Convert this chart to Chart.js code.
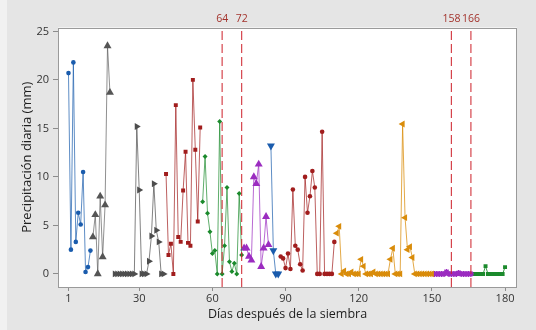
<!DOCTYPE html>
<html>
<head>
<meta charset="utf-8">
<script src="https://cdn.jsdelivr.net/npm/chart.js@4/dist/chart.umd.min.js"></script>
<style>
  html, body { margin: 0; padding: 0; background: #e5e5e5; }
  #wrap { position: relative; width: 536px; height: 330px; }
</style>
</head>
<body>
<div id="wrap"><canvas id="c" width="536" height="330"></canvas></div>
<script>
// Axis ticks and reference days
const dayTicks = [1, 30, 60, 90, 120, 150, 180];
const precipTicks = [0, 5, 10, 15, 20, 25];
const markerDays = [64, 72, 158, 166];

// Daily precipitation (mm) per crop stage; each stage starts on the given day
const stage1Start = 1;
const stage1 = [20.7, 2.5, 21.8, 3.3, 6.3, 5.1, 10.5, 0.2, 0.7, 2.4];
const stage2Start = 11;
const stage2 = [3.8, 6.1, 0, 8.0, 1.75, 7.1, 23.5, 18.7];
const stage3Start = 20;
const stage3 = [0, 0, 0, 0, 0, 0, 0, 0, 0, 15.2, 8.65, 0, 0, 0, 1.3, 3.9, 9.3, 4.5, 3.3, 0, 0];
const stage4Start = 41;
const stage4 = [10.3, 1.95, 3.1, 0, 17.4, 3.8, 3.3, 8.6, 12.6, 3.2, 2.9, 20.0, 12.8, 5.4, 15.1];
const stage5Start = 56;
const stage5 = [7.45, 12.1, 6.25, 4.35, 2.1, 2.4, 0, 15.7, 0, 2.9, 8.9, 1.25, 0.25, 1.1, 0, 8.3, 1.95];
const stage6Start = 73;
const stage6 = [2.65, 2.65, 1.8, 1.4, 10.0, 9.3, 11.3, 0.75, 2.65, 5.9, 3.0];
const stage7Start = 84;
const stage7 = [13.2, 2.4, 0, 0];
const stage8Start = 88;
const stage8 = [1.8, 1.6, 0.6, 2.1, 0.5, 8.7, 2.9, 2.5, 1.0, 0.35, 10.0, 6.3, 8.0, 10.6, 8.9, 0, 0, 14.65, 0, 0, 0, 0, 3.3];
const stage9Start = 111;
const stage9 = [4.2, 4.9, 0, 0.3, 0, 0, 0.2, 0, 0, 0, 1.5, 0.8, 0, 0, 0, 0.2, 0, 0, 0, 0, 0, 0, 1.5, 2.65, 0, 0, 0, 15.45, 5.8, 2.5, 2.8, 1.7, 0, 0, 0, 0, 0, 0, 0, 0];
const stage10Start = 151;
const stage10 = [0, 0, 0, 0, 0, 0.2, 0, 0, 0, 0, 0.1, 0, 0, 0, 0, 0];
const stage11Start = 167;
const stage11 = [0, 0, 0, 0, 0, 0.8, 0, 0, 0, 0, 0, 0, 0, 0.7];

// Visual style of each stage (marker colour, line colour, symbol, size, rotation)
const stageStyles = [
  { color: '#1a5cad', line: 'rgba(26,92,173,0.7)',  point: 'circle',   radius: 2.3, rotation: 0 },
  { color: '#555555', line: 'rgba(85,85,85,0.65)',  point: 'triangle', radius: 4.6, rotation: 0 },
  { color: '#4d4d4d', line: 'rgba(77,77,77,0.7)',   point: 'triangle', radius: 4.0, rotation: 90 },
  { color: '#a11d1d', line: 'rgba(161,29,29,0.7)',  point: 'rect',     radius: 2.8, rotation: 0 },
  { color: '#1b8a2c', line: 'rgba(27,138,44,0.7)',  point: 'rectRot',  radius: 2.5, rotation: 0 },
  { color: '#9b2cc0', line: 'rgba(155,44,192,0.7)', point: 'triangle', radius: 4.6, rotation: 0 },
  { color: '#1a5cad', line: 'rgba(26,92,173,0.7)',  point: 'triangle', radius: 4.6, rotation: 180 },
  { color: '#a11d1d', line: 'rgba(161,29,29,0.7)',  point: 'circle',   radius: 2.3, rotation: 0 },
  { color: '#d98c0a', line: 'rgba(217,140,10,0.75)', point: 'triangle', radius: 4.0, rotation: -90 },
  { color: '#9b2cc0', line: 'rgba(155,44,192,0.8)', point: 'star',     radius: 3.0, rotation: 0 },
  { color: '#1b8a2c', line: 'rgba(27,138,44,0.85)', point: 'rect',     radius: 2.8, rotation: 0 }
];

const stageData = [
  [stage1Start, stage1], [stage2Start, stage2], [stage3Start, stage3], [stage4Start, stage4],
  [stage5Start, stage5], [stage6Start, stage6], [stage7Start, stage7], [stage8Start, stage8],
  [stage9Start, stage9], [stage10Start, stage10], [stage11Start, stage11]
];

const yMin = -1.35, yMax = 25.4;
const xMin = -3.3, xMax = 184.9;

const stageSets = stageData.map(([start, vals], k) => {
  const st = stageStyles[k];
  return {
    data: vals.map((v, i) => ({ x: start + i, y: v })),
    showLine: true,
    borderColor: st.line,
    borderWidth: 1,
    pointStyle: st.point,
    pointRadius: st.radius,
    pointRotation: st.rotation,
    pointBackgroundColor: st.color,
    pointBorderColor: st.color,
    pointBorderWidth: st.point === 'star' ? 1.4 : 0,
    pointHoverRadius: st.radius,
    tension: 0
  };
});

const refSets = markerDays.map(d => ({
  data: [{ x: d, y: yMin }, { x: d, y: yMax }],
  showLine: true,
  borderColor: 'rgba(206,34,44,0.85)',
  borderWidth: 1.2,
  borderDash: [9, 4],
  pointRadius: 0,
  tension: 0
}));

const framePlugin = {
  id: 'frame',
  beforeDraw(chart) {
    const { ctx, chartArea: a } = chart;
    ctx.save();
    ctx.fillStyle = '#e5e5e5';
    ctx.fillRect(0, 0, chart.width, chart.height);
    ctx.fillStyle = '#f1f1f1';
    ctx.fillRect(0, 0, 7, chart.height);
    ctx.fillStyle = '#ffffff';
    ctx.fillRect(a.left, a.top, a.right - a.left, a.bottom - a.top);
    ctx.restore();
  },
  afterDatasetsDraw(chart) {
    const { ctx, chartArea: a } = chart;
    ctx.save();
    ctx.strokeStyle = '#9a9a9a';
    ctx.lineWidth = 1;
    ctx.strokeRect(Math.round(a.left) + 0.5, Math.round(a.top) + 0.5,
                   Math.round(a.right - a.left) - 1, Math.round(a.bottom - a.top) - 1);
    ctx.restore();
  }
};

const FONT = "'Open Sans', 'Noto Sans', sans-serif";

new Chart(document.getElementById('c'), {
  type: 'scatter',
  data: { datasets: [...refSets, ...stageSets] },
  options: {
    responsive: false,
    animation: false,
    devicePixelRatio: 1,
    layout: { padding: { left: 0, right: 19, top: 0, bottom: 0 } },
    plugins: { legend: { display: false }, tooltip: { enabled: false } },
    scales: {
      x: {
        type: 'linear', position: 'bottom', min: xMin, max: xMax,
        afterBuildTicks: s => { s.ticks = dayTicks.map(v => ({ value: v })); },
        afterFit: s => { s.height = 43; },
        ticks: { autoSkip: false, maxRotation: 0, padding: 1, color: '#333', font: { family: FONT, size: 11 } },
        grid: { drawOnChartArea: false, drawTicks: true, tickLength: 4, color: '#8c8c8c' },
        border: { display: false },
        title: { display: true, text: 'Días después de la siembra', color: '#1e1e1e',
                 font: { family: FONT, size: 12.5 }, padding: { top: 0, bottom: 8 } }
      },
      x2: {
        type: 'linear', position: 'top', min: xMin, max: xMax,
        afterBuildTicks: s => { s.ticks = markerDays.map(v => ({ value: v })); },
        afterFit: s => { s.height = 27.5; },
        ticks: { autoSkip: false, maxRotation: 0, padding: 2, color: '#a3332c', font: { family: FONT, size: 10.5 } },
        grid: { drawOnChartArea: false, drawTicks: false },
        border: { display: false }
      },
      y: {
        type: 'linear', position: 'left', min: yMin, max: yMax,
        afterBuildTicks: s => { s.ticks = precipTicks.map(v => ({ value: v })); },
        afterFit: s => { s.width = 58; },
        ticks: { padding: 4, color: '#333', font: { family: FONT, size: 11 } },
        grid: { drawOnChartArea: false, drawTicks: true, tickLength: 5, color: '#8c8c8c' },
        border: { display: false },
        title: { display: true, text: 'Precipitación diaria (mm)', color: '#1e1e1e',
                 font: { family: FONT, size: 13 }, padding: { top: 19, bottom: 0 } }
      }
    }
  },
  plugins: [framePlugin]
});
</script>
</body>
</html>
